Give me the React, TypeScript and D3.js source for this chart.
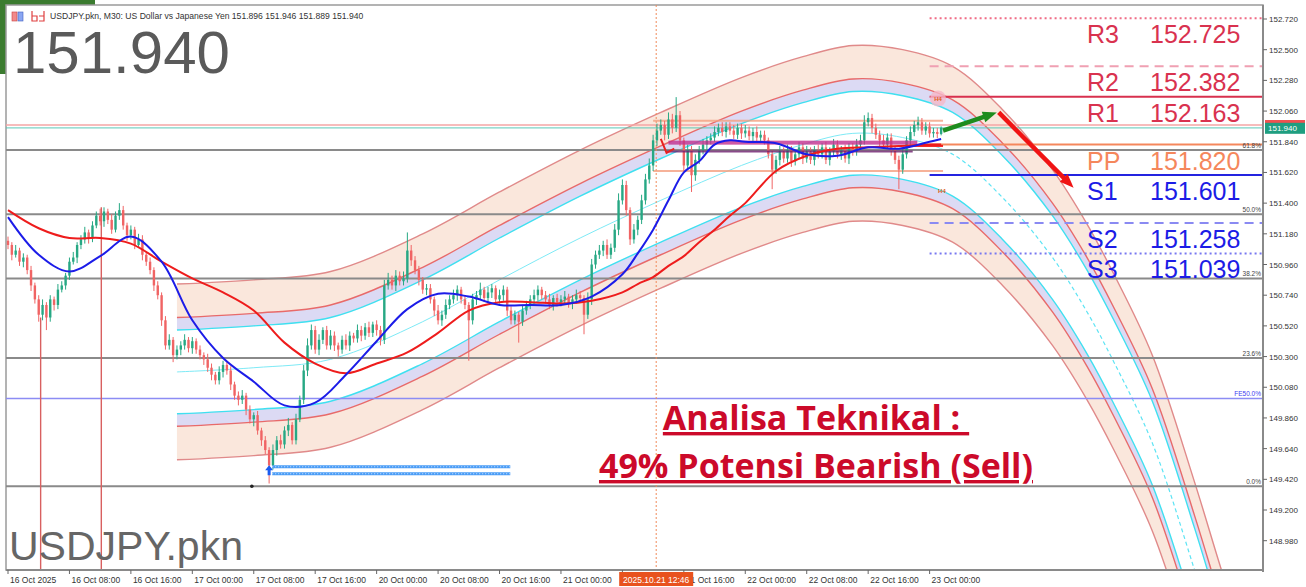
import React from 'react';
import * as d3 from 'd3';

// ---------- DATA ----------
const timeLabels = [
  '16 Oct 2025', '16 Oct 08:00', '16 Oct 16:00', '17 Oct 00:00', '17 Oct 08:00', '17 Oct 16:00',
  '20 Oct 00:00', '20 Oct 08:00', '20 Oct 16:00', '21 Oct 00:00', '21 Oct 16:00',
  '22 Oct 00:00', '22 Oct 08:00', '22 Oct 16:00', '23 Oct 00:00',
];
const timeLabelBars = [0, 16, 32, 48, 64, 80, 96, 112, 128, 144, 176, 192, 208, 224, 240];
const tickBars = [0, 16, 32, 48, 64, 80, 96, 112, 128, 144, 160, 176, 192, 208, 224, 240];

const priceTicks = [152.72, 152.5, 152.28, 152.06, 151.84, 151.62, 151.4, 151.18, 150.96, 150.74,
  150.52, 150.3, 150.08, 149.86, 149.64, 149.42, 149.2, 148.98];

const firstOpen = 151.13;
const closes = [
  151.10, 151.03, 151.06, 150.98, 151.01, 150.92, 150.81, 150.71, 150.60, 150.67,
  150.58, 150.71, 150.67, 150.78, 150.81, 150.88, 150.98, 151.01, 151.10, 151.14,
  151.19, 151.15, 151.24, 151.31, 151.27, 151.34, 151.28, 151.21, 151.31, 151.35,
  151.24, 151.17, 151.21, 151.10, 151.14, 151.03, 150.98, 150.92, 150.81, 150.74,
  150.56, 150.38, 150.42, 150.31, 150.35, 150.38, 150.42, 150.36, 150.41, 150.35,
  150.31, 150.28, 150.22, 150.17, 150.13, 150.19, 150.24, 150.20, 150.10, 150.02,
  149.99, 150.02, 149.92, 149.85, 149.88, 149.77, 149.70, 149.63, 149.52, 149.63,
  149.70, 149.67, 149.77, 149.81, 149.70, 149.85, 149.99, 150.20, 150.38, 150.49,
  150.35, 150.42, 150.49, 150.38, 150.45, 150.38, 150.35, 150.42, 150.38, 150.45,
  150.43, 150.49, 150.45, 150.51, 150.47, 150.53, 150.49, 150.42, 150.81, 150.85,
  150.81, 150.88, 150.84, 150.86, 151.06, 150.99, 150.92, 150.85, 150.78, 150.79,
  150.71, 150.63, 150.56, 150.60, 150.67, 150.71, 150.74, 150.78, 150.71, 150.67,
  150.56, 150.71, 150.74, 150.78, 150.72, 150.76, 150.79, 150.71, 150.74, 150.78,
  150.63, 150.56, 150.60, 150.55, 150.63, 150.67, 150.71, 150.74, 150.78, 150.74,
  150.71, 150.67, 150.72, 150.69, 150.71, 150.73, 150.68, 150.71, 150.74, 150.72,
  150.60, 150.71, 150.96, 151.03, 151.06, 151.10, 151.03, 151.08, 151.21, 151.42,
  151.53, 151.35, 151.14, 151.21, 151.28, 151.42, 151.57, 151.67, 151.85, 151.92,
  151.96, 151.89, 152.00, 151.94, 152.03, 151.85, 151.67, 151.78, 151.60, 151.71,
  151.78, 151.82, 151.85, 151.87, 151.91, 151.94, 151.91, 151.95, 151.92, 151.89,
  151.94, 151.90, 151.92, 151.88, 151.91, 151.87, 151.89, 151.85, 151.75, 151.64,
  151.71, 151.77, 151.72, 151.78, 151.70, 151.75, 151.80, 151.72, 151.77, 151.71,
  151.78, 151.75, 151.80, 151.71, 151.77, 151.82, 151.75, 151.78, 151.72, 151.80,
  151.77, 151.82, 151.85, 151.98, 152.01, 151.94, 151.89, 151.85, 151.82, 151.87,
  151.78, 151.71, 151.64, 151.75, 151.85, 151.91, 151.96, 151.98, 151.92, 151.95,
  151.90, 151.91, 151.896, 151.94,
];
// wick lengths in hundredths of a yen
const wickUp = [
  3, 2, 4, 2, 3, 2, 3, 2, 3, 4, 2, 3, 2, 4, 3, 2, 3, 4, 2, 3,
  4, 2, 3, 3, 5, 3, 2, 4, 3, 5, 3, 2, 3, 2, 4, 3, 2, 3, 2, 3,
  2, 3, 4, 2, 3, 3, 4, 2, 3, 2, 3, 2, 4, 3, 2, 4, 3, 2, 3, 2,
  3, 4, 2, 3, 2, 3, 2, 3, 2, 4, 3, 4, 3, 5, 2, 4, 3, 4, 5, 4,
  3, 4, 2, 3, 4, 3, 2, 3, 4, 3, 2, 4, 3, 3, 4, 2, 3, 3, 4, 5,
  3, 4, 3, 5, 13, 4, 3, 3, 2, 3, 3, 2, 4, 3, 4, 3, 4, 3, 2, 3,
  2, 4, 3, 5, 2, 4, 3, 2, 4, 3, 2, 3, 3, 2, 4, 3, 3, 4, 3, 2,
  3, 4, 2, 3, 3, 4, 2, 3, 4, 3, 2, 5, 4, 3, 4, 3, 4, 3, 4, 5,
  4, 3, 2, 4, 3, 4, 4, 5, 4, 5, 4, 3, 5, 4, 13, 3, 2, 4, 3, 4,
  3, 4, 3, 3, 4, 3, 4, 3, 3, 4, 3, 3, 4, 3, 3, 4, 3, 3, 2, 3,
  3, 4, 3, 4, 3, 3, 4, 3, 4, 3, 3, 4, 3, 4, 3, 4, 3, 3, 4, 3,
  3, 4, 4, 5, 4, 3, 3, 3, 4, 3, 3, 3, 3, 4, 3, 4, 3, 4, 3, 3,
  3, 3, 3, 1,
];
const wickDown = [
  3, 4, 2, 3, 4, 3, 4, 3, 5, 4, 9, 3, 4, 3, 2, 3, 3, 2, 4, 3,
  3, 4, 3, 2, 3, 4, 3, 3, 2, 3, 3, 4, 3, 3, 2, 4, 3, 3, 4, 3,
  4, 3, 3, 5, 3, 4, 3, 3, 4, 3, 3, 4, 3, 4, 3, 3, 4, 3, 4, 3,
  4, 3, 4, 3, 5, 3, 4, 3, 13, 3, 4, 3, 3, 4, 3, 3, 2, 3, 4, 3,
  3, 4, 3, 3, 3, 4, 5, 3, 3, 4, 3, 3, 4, 3, 3, 3, 4, 4, 3, 3,
  3, 4, 3, 3, 3, 4, 3, 4, 3, 4, 3, 4, 3, 4, 3, 3, 3, 4, 3, 3,
  29, 3, 4, 3, 3, 3, 4, 3, 3, 4, 4, 3, 3, 15, 3, 3, 3, 3, 4, 3,
  3, 3, 4, 3, 3, 3, 3, 4, 3, 3, 14, 3, 4, 3, 3, 4, 3, 3, 3, 4,
  3, 4, 4, 3, 4, 3, 3, 3, 4, 4, 3, 4, 3, 4, 3, 4, 4, 3, 12, 4,
  3, 3, 4, 3, 3, 3, 3, 4, 3, 3, 3, 4, 3, 3, 4, 3, 3, 3, 3, 14,
  3, 4, 3, 3, 4, 3, 3, 4, 3, 3, 4, 3, 3, 3, 4, 3, 3, 4, 3, 4,
  3, 3, 3, 3, 3, 4, 3, 4, 3, 3, 4, 3, 14, 3, 3, 3, 3, 4, 3, 3,
  3, 3, 3, 1,
];

const maBars = [0, 8, 16, 24, 32, 40, 48, 56, 64, 72, 80, 88, 96, 104, 112, 120, 128, 136, 144, 152,
  160, 164, 168, 172, 176, 180, 184, 188, 192, 200, 208, 216, 224, 232, 240, 243];
const blueMA = [151.30, 151.03, 150.91, 151.02, 151.16, 150.98, 150.56, 150.29, 150.12, 149.95,
  149.97, 150.17, 150.41, 150.64, 150.75, 150.73, 150.67, 150.67, 150.67, 150.73,
  150.89, 151.04, 151.21, 151.42, 151.62, 151.70, 151.82, 151.85, 151.84, 151.83,
  151.75, 151.74, 151.80, 151.79, 151.84, 151.86];
const redMA = [151.35, 151.22, 151.15, 151.15, 151.11, 150.98, 150.86, 150.76, 150.63, 150.40,
  150.25, 150.18, 150.25, 150.33, 150.47, 150.63, 150.69, 150.69, 150.68, 150.70,
  150.76, 150.82, 150.87, 150.95, 151.02, 151.12, 151.21, 151.31, 151.40, 151.63,
  151.74, 151.79, 151.80, 151.81, 151.82, 151.82];

const channelBars = [44, 64, 84, 108, 128, 149, 170, 191, 207, 220, 233, 246, 259, 272, 281, 288, 298, 309, 316, 324];
const channelMid = [150.19, 150.22, 150.28, 150.55, 150.85, 151.15, 151.42, 151.67, 151.82, 151.90,
  151.87, 151.75, 151.44, 151.01, 150.62, 150.26, 149.68, 148.77, 148.14, 147.46];
const bandCyan = 0.30;
const bandInner = 0.39;
const bandOuter = 0.63;

const pivotNames = ['R3', 'R2', 'R1', 'PP', 'S1', 'S2', 'S3'];
const pivotValues = [152.725, 152.382, 152.163, 151.82, 151.601, 151.258, 151.039];
const pivotStartBar = 240;

const fibLow = 149.37;
const fibHigh = 153.27;
const fibLevels = [0, 0.236, 0.382, 0.5, 0.618];
const fibLabels = ['0.0%', '23.6%', '38.2%', '50.0%', '61.8%'];
const fe50 = 150.0;

const bidPrice = 151.94;
const askPrice = 151.96;
const cursorBar = 168.8;
const cursorLabel = '2025.10.21 12:46';

const sepLines = [[8.5, 150.58], [24.3, 151.37]];
const boxTop = 151.99, boxBottom = 151.63, boxFrom = 168, boxTo = 243.5;
const magentaLevel = 151.83, purpleLevel = 151.77, redShortLevel = 151.81;
const arrowGreen = [[243.5, 151.92], [257.5, 152.05]];
const arrowRed = [[258, 152.05], [277.5, 151.51]];
const buyLines = [149.51, 149.46];
const buyFrom = 68.8, buyTo = 130.8;

const headerText = 'USDJPY.pkn, M30:  US Dollar vs Japanese Yen  151.896 151.946 151.889 151.940';

export default function App() {
  const L = 6, T = 5, R = 1263, B = 570;
  const x = d3.scaleLinear().domain([0, 240]).range([8, 929.6]);
  const y = d3.scaleLinear().domain([148.98, 152.72]).range([540.7, 19]);
  const f3 = d3.format('.3f');
  const axisFont = "'Liberation Sans', Arial, sans-serif";

  const candles = closes.map((c, i) => {
    const o = i === 0 ? firstOpen : closes[i - 1];
    const h = Math.max(o, c) + wickUp[i] / 100;
    const l = Math.min(o, c) - wickDown[i] / 100;
    return { i, o, h, l, c };
  });

  const maLine = (vals: number[]) =>
    d3.line<number>().x((_, k) => x(maBars[k])).y((v) => y(v)).curve(d3.curveCatmullRom.alpha(0.5))(vals) || '';

  const chLine = (off: number) =>
    d3.line<number>().x((_, k) => x(channelBars[k])).y((v) => y(v + off)).curve(d3.curveCatmullRom.alpha(0.5))(channelMid) || '';
  const chArea = (o1: number, o2: number) =>
    d3.area<number>().x((_, k) => x(channelBars[k])).y0((v) => y(v + o1)).y1((v) => y(v + o2)).curve(d3.curveCatmullRom.alpha(0.5))(channelMid) || '';

  const pivotText = ['#d9324f', '#d9324f', '#d9324f', '#f5875c', '#1c1ce6', '#1c1ce6', '#1c1ce6'];
  const pivotStroke = ['#f06c86', '#f0a0b2', '#d8304e', '#f5875c', '#2424e0', '#8a8af2', '#7878f0'];
  const pivotDash = ['2,3', '9,6', '', '', '', '9,6', '2,3'];

  const arrowHead = (p0: number[], p1: number[], len: number, wid: number) => {
    const x0 = x(p0[0]), y0 = y(p0[1]), x1 = x(p1[0]), y1 = y(p1[1]);
    const a = Math.atan2(y1 - y0, x1 - x0);
    const bx = x1 - len * Math.cos(a), by = y1 - len * Math.sin(a);
    const nx = -Math.sin(a) * wid / 2, ny = Math.cos(a) * wid / 2;
    return `M${x1},${y1}L${bx + nx},${by + ny}L${bx - nx},${by - ny}Z`;
  };
  const shaft = (p0: number[], p1: number[], len: number) => {
    const x0 = x(p0[0]), y0 = y(p0[1]), x1 = x(p1[0]), y1 = y(p1[1]);
    const a = Math.atan2(y1 - y0, x1 - x0);
    return { x1: x0, y1: y0, x2: x1 - len * 0.8 * Math.cos(a), y2: y1 - len * 0.8 * Math.sin(a) };
  };
  const gs = shaft(arrowGreen[0], arrowGreen[1], 13);
  const rs = shaft(arrowRed[0], arrowRed[1], 13);
  const lastX = x(243.5);

  return (
    <svg width={1306} height={587} style={{ position: 'absolute', left: 0, top: 0, display: 'block', background: '#fff' }}
      fontFamily={axisFont}>
      <defs>
        <clipPath id="plot"><rect x={L} y={T} width={R - L} height={B - T} /></clipPath>
        <clipPath id="past"><rect x={L} y={T} width={lastX - L} height={B - T} /></clipPath>
        <clipPath id="future"><rect x={lastX} y={T} width={R - lastX} height={B - T} /></clipPath>
      </defs>
      <rect x={0} y={0} width={1306} height={587} fill="#fff" />
      <rect x={0} y={0} width={95} height={74} fill="#3b7b2f" />
      <rect x={L} y={T} width={R - L} height={B - T} fill="#fff" stroke="#9a9a9a" strokeWidth={1.5} />

      <g clipPath="url(#plot)">
        {/* regression channel */}
        <path d={chArea(bandInner, bandOuter)} fill="#f9e3d6" opacity={0.85} />
        <path d={chArea(-bandInner, -bandOuter)} fill="#f9e3d6" opacity={0.85} />
        <path d={chArea(bandCyan, bandInner)} fill="#dcdaf4" />
        <path d={chArea(-bandCyan, -bandInner)} fill="#dcdaf4" />
        {[bandOuter, -bandOuter].map((o, k) => (
          <path key={'o' + k} d={chLine(o)} fill="none" stroke="#e08a8a" strokeWidth={1.4} />
        ))}
        {[bandInner, -bandInner].map((o, k) => (
          <path key={'i' + k} d={chLine(o)} fill="none" stroke="#e86a6a" strokeWidth={1.4} />
        ))}
        {[bandCyan, -bandCyan].map((o, k) => (
          <path key={'c' + k} d={chLine(o)} fill="none" stroke="#3fe0f0" strokeWidth={1.4} />
        ))}
        <path d={chLine(0)} fill="none" stroke="#7eeaf6" strokeWidth={1} clipPath="url(#past)" />
        <path d={chLine(0)} fill="none" stroke="#5ee4f4" strokeWidth={1.2} strokeDasharray="4,3" clipPath="url(#future)" />

        {/* fibonacci lines */}
        {fibLevels.map((lv, k) => {
          const yy = y(fibLow + (fibHigh - fibLow) * lv);
          return <line key={'f' + k} x1={L} x2={R} y1={yy} y2={yy} stroke="#8a8a8a" strokeWidth={2} />;
        })}
        <line x1={L} x2={R} y1={y(fe50)} y2={y(fe50)} stroke="#8c8cf4" strokeWidth={1.5} />

        {/* current price lines */}
        <line x1={L} x2={R} y1={y(askPrice)} y2={y(askPrice)} stroke="#f4a6a6" strokeWidth={1.5} />
        <line x1={L} x2={R} y1={y(bidPrice)} y2={y(bidPrice)} stroke="#5cc8b8" strokeWidth={1.2} opacity={0.8} />

        {/* pivots */}
        {pivotValues.map((v, k) => (
          <line key={'p' + k} x1={x(pivotStartBar)} x2={R} y1={y(v)} y2={y(v)} stroke={pivotStroke[k]}
            strokeWidth={2} strokeDasharray={pivotDash[k] || undefined} />
        ))}

        {/* period separators */}
        {sepLines.map((s, k) => (
          <line key={'s' + k} x1={x(s[0])} x2={x(s[0])} y1={y(s[1])} y2={B} stroke="#d86060" strokeWidth={1.4} />
        ))}
        <line x1={x(cursorBar)} x2={x(cursorBar)} y1={T} y2={B} stroke="#f08a5a" strokeWidth={1} strokeDasharray="2,2" />

        {/* consolidation box lines */}
        <line x1={x(boxFrom)} x2={x(boxTo)} y1={y(boxTop)} y2={y(boxTop)} stroke="#f4a080" strokeWidth={2} opacity={0.8} />
        <line x1={x(boxFrom)} x2={x(boxTo)} y1={y(boxBottom)} y2={y(boxBottom)} stroke="#f4a080" strokeWidth={2} opacity={0.8} />

        {/* candles */}
        {candles.map((d) => {
          const up = d.c >= d.o;
          const col = up ? '#27a884' : '#f06464';
          const yt = y(Math.max(d.o, d.c));
          const hh = Math.max(1, Math.abs(y(d.o) - y(d.c)));
          return (
            <g key={'k' + d.i}>
              <line x1={x(d.i)} x2={x(d.i)} y1={y(d.h)} y2={y(d.l)} stroke={col} strokeWidth={1} />
              <rect x={x(d.i) - 1.2} y={yt} width={2.4} height={hh} fill={col} />
            </g>
          );
        })}

        <rect x={x(172)} y={y(magentaLevel) - 2.5} width={x(236.8) - x(172)} height={4} fill="#c2308e" opacity={0.8} />
        <line x1={x(171.5)} x2={x(235.6)} y1={y(purpleLevel)} y2={y(purpleLevel)} stroke="#6e1f6e" strokeWidth={2} opacity={0.8} />
        <line x1={x(235.6)} x2={x(243.5)} y1={y(redShortLevel)} y2={y(redShortLevel)} stroke="#f02020" strokeWidth={2} />
        <path d={`M${x(170)},${y(151.86)}L${x(171.5)},${y(151.76)}L${x(173.5)},${y(151.79)}`} fill="none" stroke="#e82020" strokeWidth={2} />

        {/* moving averages */}
        <path d={maLine(redMA)} fill="none" stroke="#ee1c1c" strokeWidth={2} />
        <path d={maLine(blueMA)} fill="none" stroke="#1c1ce8" strokeWidth={2} />

        {/* buy lines */}
        {buyLines.map((v, k) => (
          <g key={'b' + k}>
            <line x1={x(buyFrom)} x2={x(buyTo)} y1={y(v)} y2={y(v)} stroke="#4a9cf6" strokeWidth={3} />
            <line x1={x(buyFrom)} x2={x(buyTo)} y1={y(v)} y2={y(v)} stroke="#cfe6ff" strokeWidth={1} strokeDasharray="1,2" />
          </g>
        ))}
        <path d={`M${x(68)},${y(149.52)}l-4,5h2.5v5h3v-5h2.5z`} fill="#1a5cf0" />
        <circle cx={x(63.5)} cy={y(fibLow)} r={1.8} fill="#222" />

        {/* H4 markers */}
        <circle cx={x(242.2)} cy={y(152.15)} r={8} fill="#f6b8c8" opacity={0.8} />
        <text x={x(242.2)} y={y(152.15) + 2} fontSize={6} fontWeight="bold" fill="#e0601c" textAnchor="middle">H4</text>
        <text x={x(243.2)} y={y(151.49) + 2} fontSize={6} fontWeight="bold" fill="#e0601c" textAnchor="middle">H4</text>

        {/* arrows */}
        <line {...gs} stroke="#1e8c1e" strokeWidth={4.5} />
        <path d={arrowHead(arrowGreen[0], arrowGreen[1], 14, 11)} fill="#1e8c1e" />
        <line {...rs} stroke="#f01414" strokeWidth={4.5} />
        <path d={arrowHead(arrowRed[0], arrowRed[1], 14, 11)} fill="#f01414" />
      </g>

      {/* fib labels */}
      {fibLevels.map((lv, k) => (
        <text key={'fl' + k} x={R - 2} y={y(fibLow + (fibHigh - fibLow) * lv) - 2} fontSize={6.5} fill="#444" textAnchor="end">{fibLabels[k]}</text>
      ))}
      <text x={R - 2} y={y(fe50) - 2} fontSize={6.5} fill="#4040f0" textAnchor="end">FE50.0%</text>

      {/* pivot labels */}
      {pivotValues.map((v, k) => (
        <g key={'pl' + k} fill={pivotText[k]} fontSize={25}>
          <text x={1087} y={y(v) + 25}>{pivotNames[k]}</text>
          <text x={1150} y={y(v) + 25}>{f3(v)}</text>
        </g>
      ))}

      {/* right axis */}
      <line x1={R} x2={R} y1={T} y2={B + 2} stroke="#8a8a8a" strokeWidth={2} />
      <line x1={L} x2={R} y1={B} y2={B} stroke="#8a8a8a" strokeWidth={2} />
      {priceTicks.map((v, k) => (
        <g key={'pt' + k}>
          <line x1={R} x2={R + 4} y1={y(v)} y2={y(v)} stroke="#666" />
          <text x={R + 6} y={y(v) + 3} fontSize={8} fill="#333">{f3(v)}</text>
        </g>
      ))}
      <rect x={R + 2} y={y(askPrice) - 5} width={40} height={4} fill="#f05050" />
      <rect x={R + 2} y={y(bidPrice) - 5} width={40} height={11} fill="#1f9e80" />
      <text x={R + 5} y={y(bidPrice) + 3.5} fontSize={8} fill="#fff">{f3(bidPrice)}</text>

      {/* bottom axis */}
      {tickBars.map((b, k) => (
        <line key={'tk' + k} x1={x(b)} x2={x(b)} y1={B} y2={B + 4} stroke="#666" />
      ))}
      {timeLabels.map((t, k) => (
        <text key={'tl' + k} x={x(timeLabelBars[k]) + 2} y={583} fontSize={8.5} fill="#333">{t}</text>
      ))}
      <rect x={x(cursorBar) - 37} y={572} width={74} height={14} fill="#e8521e" />
      <text x={x(cursorBar)} y={582.5} fontSize={8.5} fill="#fff" textAnchor="middle">{cursorLabel}</text>

      {/* header */}
      <rect x={12} y={12} width={5} height={9} fill="#f28a8a" stroke="#c94040" strokeWidth={0.6} />
      <rect x={18} y={12} width={5} height={9} fill="#8aa6f2" stroke="#4060c0" strokeWidth={0.6} />
      <path d="M32,11v10h5v-5h-5M39,21h5v-5h-5M44,11v10" fill="none" stroke="#e04040" strokeWidth={1.2} />
      <text x={50} y={19} fontSize={8.6} fill="#333">{headerText}</text>
      <text x={13} y={73} fontSize={60} fill="#5a5a5a">{f3(bidPrice)}</text>
      <text x={9} y={560} fontSize={41} fill="#666">USDJPY.pkn</text>

      {/* annotation */}
      <g fontFamily="'Open Sans', sans-serif" fontWeight="bold" fontSize={34} fill="#cc0a2a" textAnchor="middle">
        <text x={816} y={430} textDecoration="underline" style={{ whiteSpace: 'pre' }}>{'Analisa Teknikal : '}</text>
        <text x={816} y={478} textDecoration="underline" style={{ whiteSpace: 'pre' }}>{'49% Potensi Bearish (Sell)'}</text>
      </g>
    </svg>
  );
}
